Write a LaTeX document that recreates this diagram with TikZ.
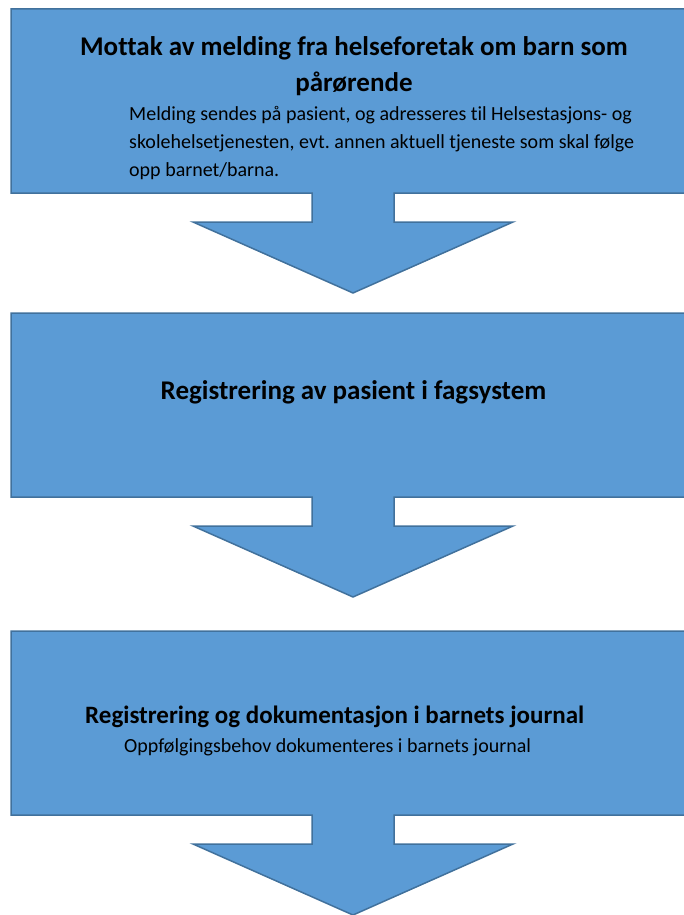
\documentclass[tikz,border=0pt]{standalone}
\usepackage{fontspec}
\setmainfont{Carlito}[Ligatures=NoCommon]
\usetikzlibrary{positioning}
\definecolor{boxblue}{HTML}{5B9BD5}
\definecolor{boxedge}{HTML}{41719C}
\frenchspacing
\tikzset{
  headtext/.style={font=\bfseries\fontsize{27}{30}\selectfont, inner sep=0pt, anchor=base},
  bodytext/.style={font=\fontsize{20}{28}\selectfont, inner sep=0pt, anchor=base west},
  callout/.style={fill=boxblue, draw=boxedge, line width=1.5pt, line join=miter}
}

\begin{document}
\begin{tikzpicture}[x=1pt,y=-1pt]
\useasboundingbox (0,0) rectangle (684,915);
\foreach \t in {9,313,631}
  \filldraw[callout] (11,\t) -- (697,\t) -- (697,\t+184) -- (394,\t+184) -- (394,\t+213)
    -- (513,\t+213) -- (353,\t+284) -- (193,\t+213) -- (312,\t+213) -- (312,\t+184)
    -- (11,\t+184) -- cycle;
\node[headtext] (mottak) at (354,56) {Mottak av melding fra helseforetak om barn som};
\node[headtext] (mottakb) at (354,92) {pårørende};
\node[bodytext] (melding) at (129,121) {Melding sendes på pasient, og adresseres til Helsestasjons- og};
\node[bodytext] (meldingb) at (129,148) {skolehelsetjenesten, evt. annen aktuell tjeneste som skal følge};
\node[bodytext] (meldingc) at (129,176) {opp barnet/barna.};
\node[headtext] (fagsystem) at (353.5,399) {Registrering av pasient i fagsystem};
\node[headtext, anchor=base west, font=\bfseries\fontsize{25}{30}\selectfont] (journal) at (85,723) {Registrering og dokumentasjon i barnets journal};
\node[bodytext] (behov) at (124,752) {Oppfølgingsbehov dokumenteres i barnets journal};
\end{tikzpicture}
\end{document}
